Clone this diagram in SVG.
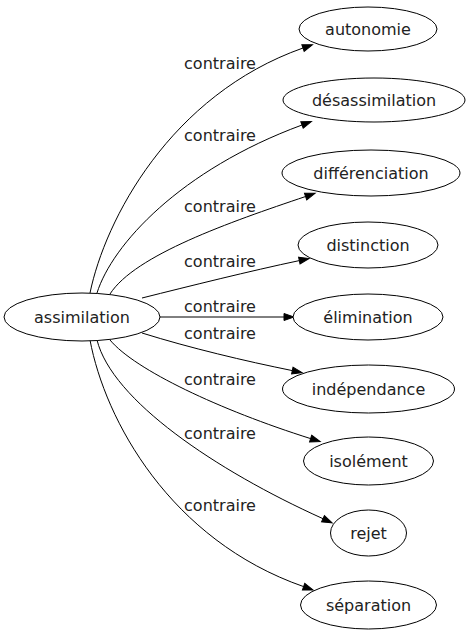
<svg xmlns="http://www.w3.org/2000/svg" width="469" height="635" viewBox="0 0 469 635">
<style>
  .node ellipse { fill: #ffffff; stroke: #000000; stroke-width: 1; }
  .node text { font-family: "DejaVu Sans", sans-serif; font-size: 16px; fill: #222222; text-anchor: middle; }
  .edges path { fill: none; stroke: #000000; stroke-width: 1; }
  .edges text { font-family: "DejaVu Sans", sans-serif; font-size: 16px; fill: #222222; text-anchor: middle; }
</style>
<defs>
  <marker id="arrow" markerUnits="userSpaceOnUse" markerWidth="12" markerHeight="10" refX="0" refY="0" viewBox="0 -5 12 10" orient="auto" overflow="visible">
    <path d="M0,-3.5 L10,0 L0,3.5 z" fill="#000000" stroke="#000000" stroke-width="1"/>
  </marker>
</defs>
<rect width="469" height="635" fill="#ffffff"/>
<g id="edges" class="edges">
  <path d="M90,293 C105,220 170,95 303,48" marker-end="url(#arrow)"/>
  <text x="220" y="69">contraire</text>
  <path d="M97,293 C112,245 180,170 302,125" marker-end="url(#arrow)"/>
  <text x="220" y="141">contraire</text>
  <path d="M110,294 C135,255 230,222 305.6,196.5" marker-end="url(#arrow)"/>
  <text x="220" y="212">contraire</text>
  <path d="M142,298 C190,286 250,271 299.3,260.6" marker-end="url(#arrow)"/>
  <text x="220" y="267">contraire</text>
  <path d="M160,317 L284,317" marker-end="url(#arrow)"/>
  <text x="220" y="312">contraire</text>
  <path d="M142,333 C190,348 245,361 292.3,370.6" marker-end="url(#arrow)"/>
  <text x="220" y="339">contraire</text>
  <path d="M110,340 C135,370 220,410 310.6,438.6" marker-end="url(#arrow)"/>
  <text x="220" y="385">contraire</text>
  <path d="M97,340 C112,400 215,470 323,518.7" marker-end="url(#arrow)"/>
  <text x="220" y="439">contraire</text>
  <path d="M90,340 C105,420 170,540 303.6,586.6" marker-end="url(#arrow)"/>
  <text x="220" y="511">contraire</text>
</g>
<g id="assimilation" class="node"><ellipse cx="82" cy="317" rx="78" ry="24"/><text x="82" y="322.5">assimilation</text></g>
<g id="autonomie" class="node"><ellipse cx="368" cy="29" rx="69" ry="22"/><text x="368" y="34.5">autonomie</text></g>
<g id="desassimilation" class="node"><ellipse cx="374" cy="100" rx="91" ry="22"/><text x="374" y="105.5">désassimilation</text></g>
<g id="differenciation" class="node"><ellipse cx="371" cy="173" rx="89" ry="23"/><text x="371" y="178.5">différenciation</text></g>
<g id="distinction" class="node"><ellipse cx="368" cy="245" rx="70" ry="23"/><text x="368" y="250.5">distinction</text></g>
<g id="elimination" class="node"><ellipse cx="368" cy="317" rx="75" ry="23"/><text x="368" y="322.5">élimination</text></g>
<g id="independance" class="node"><ellipse cx="368.5" cy="389" rx="86" ry="24"/><text x="368.5" y="394.5">indépendance</text></g>
<g id="isolement" class="node"><ellipse cx="368.5" cy="461" rx="65" ry="24"/><text x="368.5" y="466.5">isolément</text></g>
<g id="rejet" class="node"><ellipse cx="368.5" cy="533" rx="38" ry="23"/><text x="368.5" y="538.5">rejet</text></g>
<g id="separation" class="node"><ellipse cx="368.5" cy="605" rx="68" ry="24"/><text x="368.5" y="610.5">séparation</text></g>
</svg>
